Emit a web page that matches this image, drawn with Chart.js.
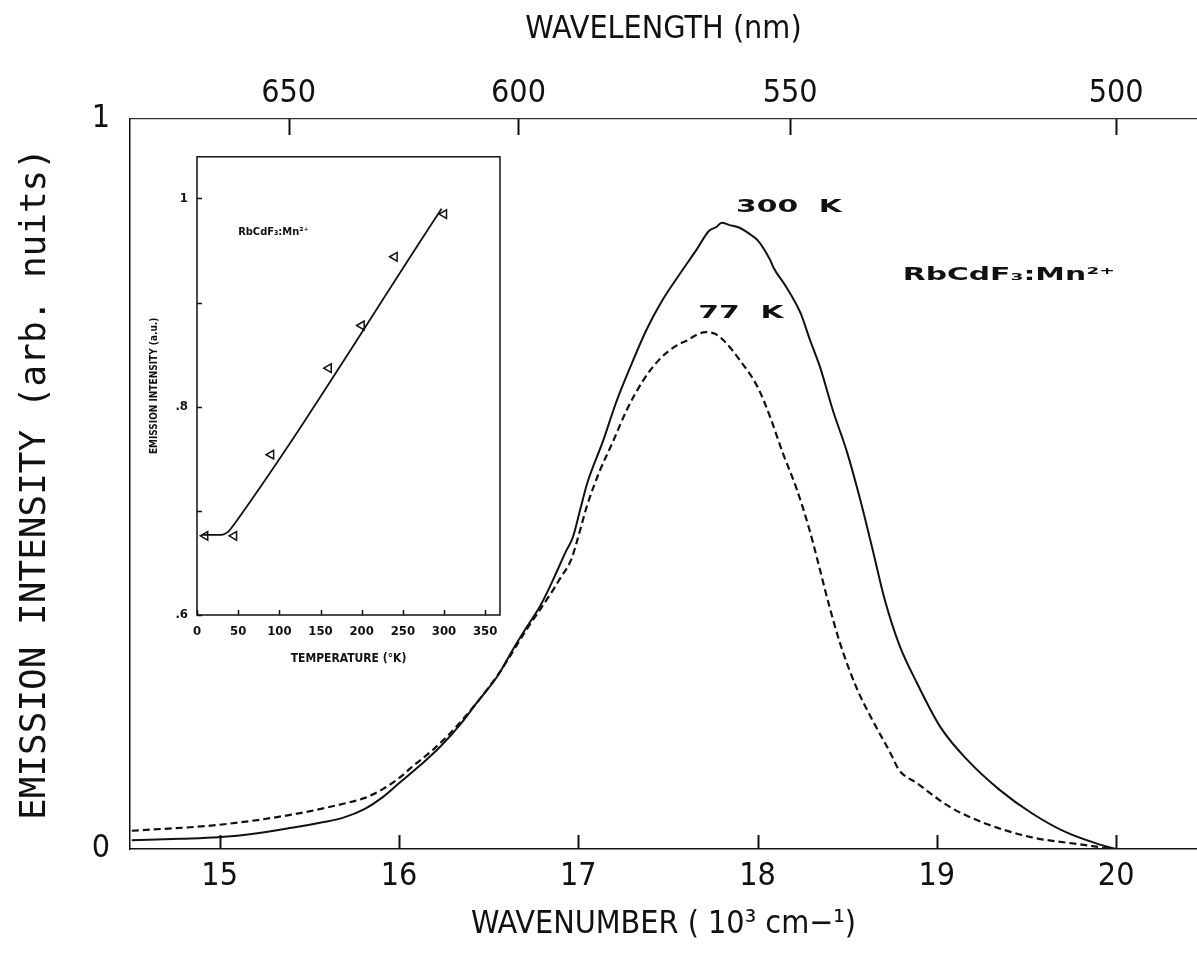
<!DOCTYPE html>
<html>
<head>
<meta charset="utf-8">
<script src="https://cdn.jsdelivr.net/npm/chart.js@4.4.1/dist/chart.umd.min.js"></script>
<style>
  html, body { margin: 0; padding: 0; background: #fff; }
  #wrap { position: relative; width: 1197px; height: 958px; overflow: hidden; }
  #main { position: absolute; left: 0; top: 0; }
  #inset { position: absolute; left: 140px; top: 140px; }
</style>
</head>
<body>
<div id="wrap">
  <canvas id="main" width="1197" height="958"></canvas>
  <canvas id="inset" width="370" height="530"></canvas>
</div>
<script>
// emission spectra, wavenumber in 10^3 cm-1
const wn300 = [14.51, 14.78, 14.99, 15.22, 15.40, 15.56, 15.69, 15.81, 15.91, 16.00, 16.12, 16.23, 16.34, 16.43,
  16.55, 16.63, 16.71, 16.79, 16.86, 16.93, 16.97, 17.01, 17.05, 17.14, 17.21, 17.29, 17.38, 17.47, 17.57, 17.66,
  17.73, 17.77, 17.80, 17.84, 17.90, 17.97, 18.00, 18.07, 18.09, 18.16, 18.24, 18.29, 18.35, 18.42, 18.50, 18.57,
  18.64, 18.71, 18.79, 18.89, 19.02, 19.17, 19.35, 19.53, 19.72, 19.91, 20.00];
const int300 = [0.012, 0.014, 0.016, 0.022, 0.029, 0.036, 0.043, 0.055, 0.071, 0.090, 0.115, 0.140, 0.170, 0.199,
  0.237, 0.271, 0.303, 0.334, 0.369, 0.407, 0.427, 0.464, 0.501, 0.560, 0.611, 0.660, 0.711, 0.752, 0.789, 0.821,
  0.847, 0.852, 0.858, 0.855, 0.851, 0.840, 0.834, 0.807, 0.796, 0.770, 0.734, 0.699, 0.659, 0.601, 0.543, 0.481,
  0.412, 0.341, 0.280, 0.227, 0.167, 0.122, 0.081, 0.049, 0.023, 0.006, 0.0];

const wn77 = [14.51, 14.99, 15.40, 15.69, 15.81, 15.91, 16.00, 16.08, 16.19, 16.34, 16.55, 16.71, 16.79, 16.86,
  16.90, 16.96, 16.99, 17.05, 17.12, 17.19, 17.27, 17.36, 17.45, 17.55, 17.61, 17.65, 17.71, 17.76, 17.81, 17.90,
  18.00, 18.07, 18.14, 18.22, 18.29, 18.33, 18.40, 18.46, 18.55, 18.64, 18.74, 18.79, 18.89, 19.07, 19.26, 19.53,
  19.81, 19.98];
const int77 = [0.025, 0.033, 0.047, 0.062, 0.070, 0.082, 0.097, 0.114, 0.136, 0.173, 0.238, 0.300, 0.329, 0.355,
  0.371, 0.396, 0.419, 0.471, 0.518, 0.556, 0.601, 0.641, 0.670, 0.690, 0.697, 0.703, 0.708, 0.706, 0.697, 0.670,
  0.633, 0.592, 0.543, 0.492, 0.437, 0.400, 0.333, 0.282, 0.222, 0.177, 0.132, 0.108, 0.090, 0.058, 0.036, 0.016,
  0.006, 0.0];

const wnTicks = [15, 16, 17, 18, 19, 20];
const nmTicks = [650, 600, 550, 500];
const yTicks = [0, 1];

// inset: emission intensity vs temperature
const tempPts = [10, 45, 90, 160, 200, 240, 300];
const intPts = [0.676, 0.676, 0.754, 0.837, 0.878, 0.944, 0.985];
const tempFit = [6, 30, 38, 45, 297];
const intFit = [0.677, 0.677, 0.680, 0.687, 0.990];
const tempTicks = [0, 50, 100, 150, 200, 250, 300, 350];
const insetYTicks = [0.6, 0.7, 0.8, 0.9, 1.0];
const insetYLabels = ['.6', '', '.8', '', '1'];

const NARROW = "'Liberation Sans Narrow', 'DejaVu Sans Condensed', Roboto, sans-serif";
const MONO = "'DejaVu Sans Mono', 'Liberation Mono', monospace";
const COND = "'DejaVu Sans Condensed', 'DejaVu Sans', sans-serif";
const WIDE = "'DejaVu Sans', sans-serif";
const INK = '#111';

const pts = (xs, ys) => xs.map((x, i) => ({ x, y: ys[i] }));
const fixTicks = (values) => (scale) => { scale.ticks = values.map((v) => ({ value: v })); };

Chart.defaults.color = INK;
Chart.defaults.font.family = NARROW;

// tick marks drawn on the inside of the frame
const innerTicks = {
  id: 'innerTicks',
  afterDraw(chart, args, opts) {
    const { ctx } = chart;
    ctx.save();
    ctx.strokeStyle = opts.color;
    ctx.lineWidth = opts.width;
    Object.entries(opts.lengths).forEach(([id, len]) => {
      const s = chart.scales[id];
      s.ticks.forEach((t) => {
        const p = Math.round(s.getPixelForValue(t.value)) + 0.5;
        ctx.beginPath();
        if (s.position === 'bottom') { ctx.moveTo(p, s.top); ctx.lineTo(p, s.top - len); }
        if (s.position === 'top') { ctx.moveTo(p, s.bottom); ctx.lineTo(p, s.bottom + len); }
        if (s.position === 'left') { ctx.moveTo(s.right, p); ctx.lineTo(s.right + len, p); }
        ctx.stroke();
      });
    });
    ctx.restore();
  },
};

// free text placed in data coordinates
const notes = {
  id: 'notes',
  afterDraw(chart, args, opts) {
    const { ctx } = chart;
    const xs = chart.scales[opts.xAxis];
    const ys = chart.scales[opts.yAxis];
    opts.items.forEach((n) => {
      ctx.save();
      ctx.font = n.font;
      ctx.fillStyle = INK;
      ctx.textBaseline = 'middle';
      ctx.translate(xs.getPixelForValue(n.x), ys.getPixelForValue(n.y));
      ctx.scale(n.stretch || 1, 1);
      ctx.fillText(n.text, 0, 0);
      ctx.restore();
    });
  },
};

const frame = {
  id: 'frame',
  afterDraw(chart) {
    const { ctx, chartArea: a } = chart;
    ctx.save();
    ctx.strokeStyle = INK;
    ctx.lineWidth = 1.5;
    ctx.strokeRect(a.left, a.top, a.right - a.left, a.bottom - a.top);
    ctx.restore();
  },
};

new Chart(document.getElementById('main'), {
  type: 'scatter',
  data: {
    datasets: [
      {
        label: '300 K',
        data: pts(wn300, int300),
        showLine: true,
        borderColor: INK,
        borderWidth: 2,
        pointRadius: 0,
        cubicInterpolationMode: 'monotone',
      },
      {
        label: '77 K',
        data: pts(wn77, int77),
        showLine: true,
        borderColor: INK,
        borderWidth: 2.2,
        borderDash: [7, 4],
        pointRadius: 0,
        cubicInterpolationMode: 'monotone',
      },
    ],
  },
  options: {
    responsive: false,
    devicePixelRatio: 1,
    animation: false,
    events: [],
    layout: { padding: 0 },
    plugins: {
      legend: { display: false },
      tooltip: { enabled: false },
      innerTicks: { color: INK, width: 2, lengths: { x: 14, xTop: 16 } },
      notes: {
        xAxis: 'x',
        yAxis: 'y',
        items: [
          { text: '300  K', x: 17.88, y: 0.879, font: `bold 17px ${WIDE}`, stretch: 1.75 },
          { text: '77  K', x: 17.67, y: 0.733, font: `bold 17px ${WIDE}`, stretch: 1.75 },
          { text: 'RbCdF₃:Mn²⁺', x: 18.81, y: 0.786, font: `bold 17px ${WIDE}`, stretch: 1.75 },
        ],
      },
    },
    scales: {
      x: {
        type: 'linear',
        position: 'bottom',
        min: 14.5,
        max: 20.451,
        afterBuildTicks: fixTicks(wnTicks),
        afterFit: (s) => { s.height = 109; },
        grid: { display: false, drawTicks: false },
        border: { display: true, color: INK, width: 1.5 },
        ticks: { font: { size: 32 }, padding: 8, autoSkip: false, maxRotation: 0 },
        title: {
          display: true,
          text: 'WAVENUMBER ( 10³ cm−¹)',
          font: { size: 32 },
          padding: { bottom: 14 },
        },
      },
      xTop: {
        type: 'linear',
        position: 'top',
        min: 14.5,
        max: 20.451,
        afterBuildTicks: (s) => { s.ticks = nmTicks.map((nm) => ({ value: 1e4 / nm })); },
        afterFit: (s) => { s.height = 119; },
        grid: { display: false, drawTicks: false },
        border: { display: true, color: '#333', width: 1.3, dash: [10, 4] },
        ticks: {
          font: { size: 32 },
          padding: 6,
          autoSkip: false,
          maxRotation: 0,
          callback: (v) => String(Math.round(1e4 / v)),
        },
        title: {
          display: true,
          text: 'WAVELENGTH (nm)',
          font: { size: 32 },
          padding: { top: 10 },
        },
      },
      y: {
        type: 'linear',
        position: 'left',
        min: 0,
        max: 1,
        afterBuildTicks: fixTicks(yTicks),
        afterFit: (s) => { s.width = 130; },
        grid: { display: false, drawTicks: false },
        border: { display: true, color: INK, width: 1.5 },
        ticks: { font: { size: 32 }, padding: 20, callback: (v) => String(v) },
        title: {
          display: true,
          text: 'EMISSION INTENSITY (arb. nuits)',
          font: { family: MONO, size: 36 },
          padding: { top: 14 },
        },
      },
    },
  },
  plugins: [innerTicks, notes],
});

new Chart(document.getElementById('inset'), {
  type: 'scatter',
  data: {
    datasets: [
      {
        label: 'fit',
        data: pts(tempFit, intFit),
        showLine: true,
        borderColor: INK,
        borderWidth: 1.8,
        pointRadius: 0,
        cubicInterpolationMode: 'monotone',
      },
      {
        label: 'measured',
        data: pts(tempPts, intPts),
        showLine: false,
        pointStyle: 'triangle',
        rotation: -90,
        pointRadius: 5,
        borderColor: INK,
        borderWidth: 1.5,
        backgroundColor: '#fff',
      },
    ],
  },
  options: {
    responsive: false,
    devicePixelRatio: 1,
    animation: false,
    events: [],
    layout: { padding: { top: 5, right: 10 } },
    plugins: {
      legend: { display: false },
      tooltip: { enabled: false },
      innerTicks: { color: INK, width: 1.5, lengths: { x: 5, y: 5 } },
      notes: {
        xAxis: 'x',
        yAxis: 'y',
        items: [{ text: 'RbCdF₃:Mn²⁺', x: 50, y: 0.968, font: `bold 11px ${COND}` }],
      },
    },
    scales: {
      x: {
        type: 'linear',
        min: 0,
        max: 368,
        afterBuildTicks: fixTicks(tempTicks),
        afterFit: (s) => { s.height = 55; },
        grid: { display: false, drawTicks: false },
        border: { display: false },
        ticks: { font: { family: COND, size: 13, weight: 'bold' }, padding: 9, autoSkip: false, maxRotation: 0 },
        title: {
          display: true,
          text: 'TEMPERATURE (°K)',
          font: { family: COND, size: 12, weight: 'bold' },
          padding: { bottom: 4 },
        },
      },
      y: {
        type: 'linear',
        min: 0.6,
        max: 1.04,
        afterBuildTicks: fixTicks(insetYTicks),
        afterFit: (s) => { s.width = 57; },
        grid: { display: false, drawTicks: false },
        border: { display: false },
        ticks: {
          font: { family: COND, size: 13, weight: 'bold' },
          padding: 9,
          callback: (v, i) => insetYLabels[i],
        },
        title: {
          display: true,
          text: 'EMISSION INTENSITY (a.u.)',
          font: { family: COND, size: 10, weight: 'bold' },
          padding: { top: 8 },
        },
      },
    },
  },
  plugins: [innerTicks, notes, frame],
});
</script>
</body>
</html>
